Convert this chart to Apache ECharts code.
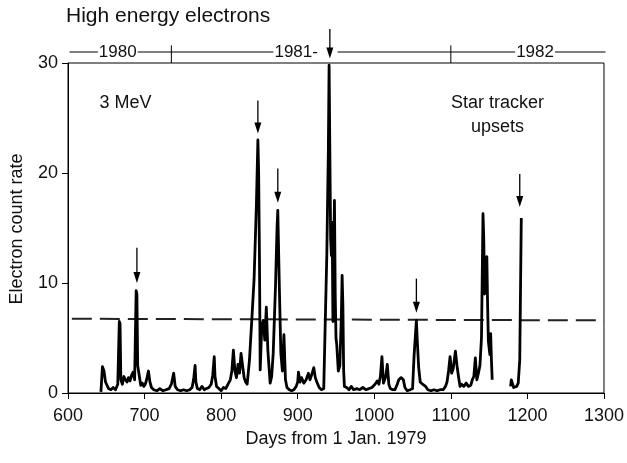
<!DOCTYPE html>
<html>
<head>
<meta charset="utf-8">
<script src="https://cdn.jsdelivr.net/npm/echarts@6/dist/echarts.min.js"></script>
<style>
html, body { margin: 0; padding: 0; background: #fff; }
#chart { width: 627px; height: 463px; }
</style>
</head>
<body>
<div id="chart"></div>
<script>
// days from 1 Jan 1979 and electron count rate (null = data gap)
var days = [643, 645, 647, 649, 651, 653, 656, 659, 662, 665, 667, 668, 669, 671, 673, 675, 677, 679, 681, 683,
  685, 687, 689, 690, 691, 693, 695, 697, 699, 701, 703, 705, 707, 709, 712, 716, 720, 724, 728, 732,
  735, 738, 740, 743, 747, 751, 755, 759, 762, 764, 766, 767, 769, 772, 775, 778, 781, 784, 787, 789,
  791, 792, 794, 797, 800, 803, 806, 809, 812, 814, 816, 818, 820, 822, 824, 826, 828, 830, 832, 834,
  837, 840, 843, 846, 848, 849, 850, 851, 853, 855, 857, 859, 861, 864, 866, 868, 871, 873, 874, 876,
  878, 880, 882, 884, 886, 889, 892, 895, 898, 900, 901, 903, 905, 908, 911, 914, 916, 918, 921, 923,
  925, 928, 931, 934, 936, 938, 940, 941, 943, 944, 945, 946, 947, 948, 949, 950, 951, 953, 955, 957,
  958, 959, 960, 961, 964, 967, 970, 973, 977, 981, 985, 989, 993, 997, 1001, 1004, 1006, 1008, 1010, 1012,
  1015, 1017, 1019, 1021, 1024, 1027, 1030, 1032, 1035, 1038, 1040, 1043, 1047, 1050, 1052, 1055, 1056, 1058, 1060, 1063,
  1067, 1070, 1074, 1078, 1082, 1086, 1090, 1093, 1095, 1097, 1099, 1101, 1103, 1106, 1108, 1110, 1112, 1114, 1117, 1120,
  1123, 1126, 1128, 1130, 1132, 1134, 1136, 1138, 1140, 1142, 1143, 1144, 1145, 1147, 1148, 1149, 1151, 1152, 1153, 1154,
  1166, 1178, 1179, 1180, 1182, 1184, 1186, 1188, 1190, 1192];
var rates = [0.1, 2.4, 2.0, 1.0, 1.1, 0.4, 0.3, 0.5, 0.3, 0.8, 6.5, 6.3, 1.2, 0.8, 1.5, 1.2, 1.0, 1.4, 1.1, 1.6,
  1.9, 1.2, 9.3, 9.0, 2.5, 1.6, 0.7, 0.9, 0.6, 0.8, 1.3, 2.0, 1.0, 0.5, 0.3, 0.2, 0.4, 0.2, 0.3, 0.4,
  0.8, 1.8, 0.6, 0.3, 0.2, 0.3, 0.2, 0.3, 0.5, 1.2, 2.5, 1.0, 0.4, 0.3, 0.6, 0.3, 0.4, 0.5, 0.8, 1.6,
  3.3, 1.5, 0.6, 0.4, 0.2, 0.5, 0.4, 0.8, 1.2, 2.0, 3.9, 2.0, 1.4, 2.6, 1.8, 3.6, 2.5, 1.4, 1.0, 0.8,
  3.0, 6.6, 10.3, 17.0, 23.0, 20.0, 12.7, 2.1, 6.0, 6.6, 4.8, 7.8, 3.9, 0.9, 1.5, 3.6, 9.7, 15.0, 16.6, 9.7,
  3.6, 2.0, 5.3, 1.2, 0.5, 0.3, 0.2, 0.3, 0.6, 1.0, 1.9, 1.0, 1.4, 0.9, 1.2, 1.8, 1.2, 1.6, 2.3, 1.4,
  1.0, 0.5, 0.3, 0.4, 6.5, 12.5, 22.0, 29.8, 14.0, 12.5, 15.5, 6.5, 13.0, 17.5, 9.0, 5.0, 4.4, 2.0, 2.5, 7.0,
  10.7, 8.0, 2.0, 0.6, 0.5, 0.3, 0.6, 0.3, 0.4, 0.3, 0.5, 0.3, 0.4, 0.5, 0.8, 1.1, 0.8, 1.5, 3.3, 0.9,
  1.5, 2.6, 0.8, 0.4, 0.3, 0.3, 0.8, 1.2, 1.4, 1.2, 0.5, 0.2, 0.3, 0.4, 3.4, 6.6, 5.0, 2.3, 1.0, 0.8,
  0.6, 0.3, 0.2, 0.3, 0.2, 0.3, 0.3, 0.6, 1.0, 2.0, 3.3, 1.8, 2.2, 3.8, 2.5, 1.5, 0.6, 0.8, 0.6, 0.9,
  0.6, 0.7, 1.2, 1.5, 3.2, 1.2, 1.8, 2.5, 5.0, 16.3, 14.0, 9.0, 10.0, 12.4, 8.0, 4.7, 3.5, 5.4, 3.0, 1.2,
  null, 0.6, 1.2, 1.3, 0.5, 0.4, 0.6, 0.9, 3.0, 15.9];

// dashed threshold line
var thresholdDays = [605, 1300];
var thresholdRates = [6.75, 6.6];

// arrows marking star tracker upsets
var arrowDays = [690, 848, 874, 942, 1055, 1190];
var arrowTops = [13.2, 26.6, 20.4, 33.1, 10.4, 19.9];
var arrowTips = [10.0, 23.6, 17.3, 30.4, 7.3, 16.9];

// year bar above the plot
var yearLabels = ['1980', '1981-', '1982'];
var yearLabelDays = [665, 898, 1210];
var yearTickDays = [735, 1100];
var yearBarRate = 31.0;
var yearTickTopRate = 31.6;

var FONT = 'Liberation Sans, Arial, Helvetica, sans-serif';

var chart = echarts.init(document.getElementById('chart'));

var option = {
  animation: false,
  backgroundColor: '#fff',
  textStyle: { fontFamily: FONT },
  title: {
    text: 'High energy electrons',
    left: 66,
    top: 6,
    padding: 0,
    textStyle: { fontSize: 21, fontWeight: 'normal', color: '#111', fontFamily: FONT }
  },
  grid: {
    left: 68, right: 23, top: 63, bottom: 70,
    show: true, borderColor: '#000', borderWidth: 1
  },
  xAxis: {
    type: 'value',
    min: 600, max: 1300, interval: 100,
    name: 'Days from 1 Jan. 1979',
    nameLocation: 'middle',
    nameGap: 37,
    nameTextStyle: { fontSize: 18, color: '#111' },
    axisLine: { lineStyle: { color: '#000', width: 1 } },
    axisTick: { length: 6, lineStyle: { color: '#000' } },
    axisLabel: { fontSize: 18, color: '#111', margin: 14, formatter: function (v) { return String(v); } },
    splitLine: { show: false }
  },
  yAxis: {
    type: 'value',
    min: 0, max: 30, interval: 10,
    axisLine: { show: true, lineStyle: { color: '#000', width: 1 } },
    axisTick: { show: true, length: 6, lineStyle: { color: '#000' } },
    axisLabel: { fontSize: 18, color: '#111', margin: 10 },
    splitLine: { show: false }
  },
  series: [
    {
      type: 'line',
      data: days.map(function (d, i) { return [d, rates[i]]; }),
      showSymbol: false,
      symbol: 'none',
      connectNulls: false,
      lineStyle: { color: '#000', width: 2.8, join: 'round' },
      z: 3
    },
    {
      type: 'line',
      data: thresholdDays.map(function (d, i) { return [d, thresholdRates[i]]; }),
      showSymbol: false,
      symbol: 'none',
      lineStyle: { color: '#222', width: 2, type: [20, 8] },
      z: 2
    }
  ]
};
chart.setOption(option);

function px(d, v) { return chart.convertToPixel({ gridIndex: 0 }, [d, v]); }

var g = [];

// y axis name
g.push({
  type: 'text', x: 17, y: 229, rotation: Math.PI / 2,
  style: { text: 'Electron count rate', font: '18px ' + FONT, fill: '#111', align: 'center', verticalAlign: 'middle' }
});

// notes
var p = px(641, 26.4);
g.push({
  type: 'text', x: p[0], y: p[1],
  style: { text: '3 MeV', font: '18px ' + FONT, fill: '#111', align: 'left', verticalAlign: 'middle' }
});
p = px(1161, 25.3);
g.push({
  type: 'text', x: p[0], y: p[1],
  style: { text: 'Star tracker\nupsets', font: '18px ' + FONT, fill: '#111', align: 'center', verticalAlign: 'middle', lineHeight: 24 }
});

// year bar
var a = px(602, yearBarRate), b = px(924, yearBarRate);
g.push({ type: 'line', shape: { x1: a[0], y1: a[1], x2: b[0], y2: b[1] }, style: { stroke: '#000', lineWidth: 1 } });
a = px(952, yearBarRate); b = px(1302, yearBarRate);
g.push({ type: 'line', shape: { x1: a[0], y1: a[1], x2: b[0], y2: b[1] }, style: { stroke: '#000', lineWidth: 1 } });
yearTickDays.forEach(function (d) {
  var t = px(d, yearTickTopRate), u = px(d, 30);
  g.push({ type: 'line', shape: { x1: t[0], y1: t[1], x2: u[0], y2: u[1] }, style: { stroke: '#000', lineWidth: 1 } });
});
yearLabels.forEach(function (s, i) {
  var q = px(yearLabelDays[i], yearBarRate);
  g.push({
    type: 'text', x: q[0], y: q[1], z: 10,
    style: { text: s, font: '17px ' + FONT, fill: '#111', align: 'center', verticalAlign: 'middle',
      backgroundColor: '#fff', padding: [0, 1] }
  });
});

// arrows
arrowDays.forEach(function (d, i) {
  var top = px(d, arrowTops[i]), tip = px(d, arrowTips[i]);
  g.push({ type: 'line', shape: { x1: top[0], y1: top[1], x2: tip[0], y2: tip[1] - 8 }, style: { stroke: '#000', lineWidth: 1.3 } });
  g.push({ type: 'polygon', shape: { points: [[tip[0], tip[1]], [tip[0] - 3.5, tip[1] - 11], [tip[0] + 3.5, tip[1] - 11]] }, style: { fill: '#000' } });
});

chart.setOption({ graphic: g });
</script>
</body>
</html>
